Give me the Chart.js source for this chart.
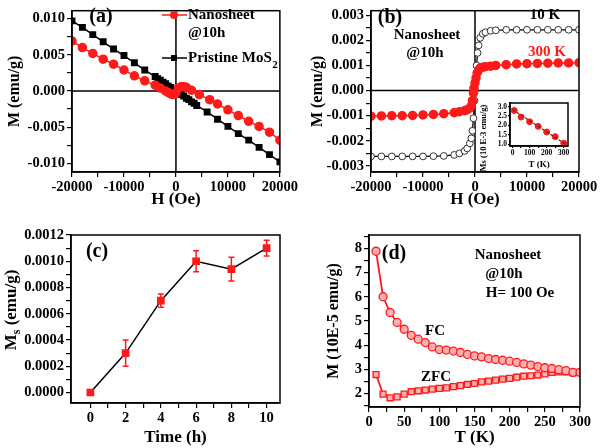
<!DOCTYPE html>
<html>
<head>
<meta charset="utf-8">
<script src="https://cdn.jsdelivr.net/npm/chart.js@4.4.1/dist/chart.umd.min.js"></script>
<style>
  body { margin: 0; background: #fff; }
  #wrap { position: relative; width: 600px; height: 448px; background: #fff; }
  canvas { position: absolute; }
</style>
</head>
<body>
<div id="wrap">
  <canvas id="ca" width="300" height="224" style="left:0px;top:0px"></canvas>
  <canvas id="cb" width="300" height="224" style="left:300px;top:0px"></canvas>
  <canvas id="cc" width="300" height="224" style="left:0px;top:224px"></canvas>
  <canvas id="cd" width="300" height="224" style="left:300px;top:224px"></canvas>
  <canvas id="cin" width="95" height="80" style="left:478px;top:95px"></canvas>
</div>
<script>
// ---- (a) M-H, nanosheet vs pristine MoS2 ----
const aFieldBlack = [-20000, -18000, -16000, -14000, -12000, -10000, -8000, -6000, -4000, -3500, -3000, -2500, -2000, -1500, -1000, -500, 0,
                     500, 1000, 1500, 2000, 2500, 3000, 3500, 4000, 6000, 8000, 10000, 12000, 14000, 16000, 18000, 20000];
const aMBlack = [0.0097, 0.0088, 0.0078, 0.0068, 0.0058, 0.0049, 0.0039, 0.0029, 0.0020, 0.0017, 0.0015, 0.0012, 0.0010, 0.0007, 0.0005, 0.0002, 0.0000,
                 -0.0002, -0.0005, -0.0007, -0.0010, -0.0012, -0.0015, -0.0017, -0.0020, -0.0029, -0.0039, -0.0049, -0.0059, -0.0068, -0.0078, -0.0088, -0.0098];
const aFieldRed = [-20000, -18000, -16000, -14000, -12000, -10000, -8000, -6000, -4000, -3000, -2000, -1500, -1000, -500, 0,
                   500, 1000, 1500, 2000, 3000, 4500, 6500, 8000, 10000, 12000, 14000, 16000, 18000, 20000];
const aMRed = [0.0069, 0.0060, 0.0052, 0.0044, 0.0037, 0.0029, 0.0021, 0.0014, 0.0008, 0.0004, 0.0000, -0.0002, -0.0004, -0.0005, -0.0003,
               0.0004, 0.0006, 0.0006, 0.0005, 0.0001, -0.0005, -0.0012, -0.0018, -0.0026, -0.0034, -0.0042, -0.0049, -0.0057, -0.0068];
const aXTicks = [-20000, -15000, -10000, -5000, 0, 5000, 10000, 15000, 20000];
const aXLabels = [-20000, -10000, 0, 10000, 20000];
const aYTicks = [-0.01, -0.0075, -0.005, -0.0025, 0, 0.0025, 0.005, 0.0075, 0.01];
const aYLabels = [-0.01, -0.005, 0, 0.005, 0.01];

// ---- (b) M-H at 10 K and 300 K ----
const bField10K = [-20000, -18000, -16000, -14000, -12000, -10000, -8000, -6000, -4000, -3000, -2000, -1500, -1000, -700, -500, -300, -100, 0,
                   100, 300, 500, 700, 1000, 1500, 2000, 3000, 4000, 6000, 8000, 10000, 12000, 14000, 16000, 18000, 20000];
const bM10K = [-0.00262, -0.00262, -0.00262, -0.00262, -0.00262, -0.00262, -0.00261, -0.0026, -0.00256, -0.0025, -0.0024, -0.0023, -0.0021, -0.0019, -0.0016, -0.0011, -0.0004, 0.0000,
               0.0004, 0.0010, 0.0015, 0.0018, 0.0021, 0.00226, 0.00232, 0.00238, 0.0024, 0.00242, 0.00242, 0.00242, 0.00242, 0.00242, 0.00242, 0.00242, 0.00242];
const bField300K = [-20000, -18000, -16000, -14000, -12000, -10000, -8000, -6000, -4000, -3000, -2000, -1500, -1000, -700, -500, -300, -200, 0,
                    200, 400, 700, 1000, 1500, 2000, 3000, 4000, 6000, 8000, 10000, 12000, 14000, 16000, 18000, 20000];
const bM300K = [-0.00102, -0.00101, -0.001, -0.001, -0.00099, -0.00097, -0.00095, -0.00092, -0.00088, -0.00084, -0.0008, -0.00076, -0.0007, -0.0006, -0.0004, -0.0001, 0.0001, 0.0003,
                0.0005, 0.0007, 0.00082, 0.0009, 0.00093, 0.00095, 0.00097, 0.001, 0.00103, 0.00106, 0.00107, 0.00108, 0.00109, 0.0011, 0.0011, 0.00111];
const bYTicks = [-0.003, -0.0025, -0.002, -0.0015, -0.001, -0.0005, 0, 0.0005, 0.001, 0.0015, 0.002, 0.0025, 0.003];
const bYLabels = [-0.003, -0.002, -0.001, 0, 0.001, 0.002, 0.003];

// inset of (b): Ms vs T
const inT = [10, 50, 100, 150, 200, 250, 300];
const inMs = [2.8, 2.45, 2.2, 1.95, 1.65, 1.4, 1.05];
const inFitT = [0, 310];
const inFitMs = [2.85, 1.0];
const inXTicks = [0, 50, 100, 150, 200, 250, 300];
const inXLabels = [0, 100, 200, 300];
const inYTicks = [1.0, 1.5, 2.0, 2.5, 3.0];

// ---- (c) Ms vs milling time ----
const cTime = [0, 2, 4, 6, 8, 10];
const cMs = [0.0, 0.0003, 0.0007, 0.001, 0.00094, 0.0011];
const cErr = [0.0, 0.0001, 0.00005, 0.00008, 0.00009, 0.00006];
const cXTicks = [0, 1, 2, 3, 4, 5, 6, 7, 8, 9, 10];
const cXLabels = [0, 2, 4, 6, 8, 10];
const cYTicks = [0, 0.0001, 0.0002, 0.0003, 0.0004, 0.0005, 0.0006, 0.0007, 0.0008, 0.0009, 0.001, 0.0011, 0.0012];
const cYLabels = [0, 0.0002, 0.0004, 0.0006, 0.0008, 0.001, 0.0012];

// ---- (d) FC / ZFC ----
const dT = [10, 20, 30, 40, 50, 60, 70, 80, 90, 100, 110, 120, 130, 140, 150,
            160, 170, 180, 190, 200, 210, 220, 230, 240, 250, 260, 270, 280, 290, 300];
const dFC = [7.88, 6.0, 5.35, 4.94, 4.66, 4.41, 4.25, 4.11, 3.93, 3.82, 3.8, 3.76, 3.7, 3.62, 3.56,
             3.52, 3.45, 3.41, 3.38, 3.34, 3.29, 3.23, 3.18, 3.12, 3.07, 3.04, 2.99, 2.95, 2.88, 2.88];
const dZFC = [2.79, 1.98, 1.83, 1.87, 1.98, 2.08, 2.12, 2.15, 2.19, 2.22, 2.24, 2.29, 2.33, 2.38, 2.42,
              2.49, 2.52, 2.56, 2.6, 2.63, 2.68, 2.72, 2.74, 2.77, 2.82, 2.88, 2.9, 2.9, 2.86, 2.88];
const dXTicks = [0, 25, 50, 75, 100, 125, 150, 175, 200, 225, 250, 275, 300];
const dXLabels = [0, 50, 100, 150, 200, 250, 300];
const dYTicks = [1.5, 2, 2.5, 3, 3.5, 4, 4.5, 5, 5.5, 6, 6.5, 7, 7.5, 8, 8.5];
const dYLabels = [2, 3, 4, 5, 6, 7, 8];

const RED = '#ff1a1a';
const FONT = '"Liberation Serif", "Times New Roman", serif';

Chart.defaults.font.family = FONT;
Chart.defaults.font.weight = 'bold';
Chart.defaults.color = '#000';

function pts(xs, ys) {
    return xs.map((x, i) => ({ x: x, y: ys[i] }));
}

// one linear axis, box size fixed so the plot area lands where it should
function axis(min, max, ticks, labeled, fmt, size, title, titlePad, small, titleSize) {
    return {
        type: 'linear',
        min: min,
        max: max,
        afterBuildTicks: s => { s.ticks = ticks.map(v => ({ value: v })); },
        afterFit: s => { if (s.isHorizontal()) s.height = size; else s.width = size; },
        ticks: {
            autoSkip: false,
            maxRotation: 0,
            padding: small ? 1 : 2,
            color: '#000',
            font: { size: small ? 7.5 : 14.5, weight: 'bold' },
            callback: v => labeled.includes(v) ? fmt(v) : ''
        },
        grid: { drawOnChartArea: false, drawTicks: true, tickLength: small ? 2 : 5, color: '#000', lineWidth: 1.2 },
        border: { display: true, color: '#000', width: 1.5 },
        title: title ? {
            display: true, text: title, color: '#000',
            font: { size: titleSize || (small ? 9 : 17), weight: 'bold' }, padding: titlePad
        } : { display: false }
    };
}

function drawTexts(ctx, items) {
    items.forEach(it => {
        ctx.font = 'bold ' + (it.size || 15) + 'px ' + FONT;
        ctx.fillStyle = it.color || '#000';
        ctx.textAlign = it.align || 'center';
        ctx.textBaseline = 'middle';
        ctx.fillText(it.t, it.x, it.y);
    });
}

// box around the plot, plus the zero cross for the M-H panels
Chart.register({
    id: 'frame',
    defaults: { zero: false },
    beforeDatasetsDraw(chart, args, opts) {
        if (!opts.zero) return;
        const { ctx, chartArea: a, scales } = chart;
        const x0 = scales.x.getPixelForValue(0);
        const y0 = scales.y.getPixelForValue(0);
        ctx.save();
        ctx.strokeStyle = '#000';
        ctx.lineWidth = 1.5;
        ctx.beginPath();
        ctx.moveTo(x0, a.top); ctx.lineTo(x0, a.bottom);
        ctx.moveTo(a.left, y0); ctx.lineTo(a.right, y0);
        ctx.stroke();
        ctx.restore();
    },
    afterDraw(chart) {
        const { ctx, chartArea: a } = chart;
        ctx.save();
        ctx.strokeStyle = '#000';
        ctx.lineWidth = 1.5;
        ctx.strokeRect(a.left, a.top, a.right - a.left, a.bottom - a.top);
        ctx.restore();
    }
});

const base = {
    responsive: false,
    animation: false,
    devicePixelRatio: 1,
    plugins: { legend: { display: false }, tooltip: { enabled: false } }
};

function opts(extra) {
    return Object.assign({}, base, extra, { plugins: Object.assign({}, base.plugins, extra.plugins || {}) });
}

// (a)
new Chart(document.getElementById('ca'), {
    type: 'scatter',
    data: {
        datasets: [{
            data: pts(aFieldRed, aMRed), showLine: true, borderColor: RED, borderWidth: 1.5,
            pointStyle: 'circle', pointRadius: 4, pointBackgroundColor: RED, pointBorderColor: RED
        }, {
            data: pts(aFieldBlack, aMBlack), showLine: true, borderColor: '#000', borderWidth: 1.5,
            pointStyle: 'rect', pointRadius: 3.8, pointBackgroundColor: '#000', pointBorderColor: '#000'
        }]
    },
    options: opts({
        layout: { padding: { left: 0, right: 17, top: 2, bottom: 0 } },
        scales: {
            x: axis(-20000, 20000, aXTicks, aXLabels, v => String(v), 52, 'H (Oe)', { top: 0, bottom: 14 }),
            y: axis(-0.0112, 0.0111, aYTicks, aYLabels, v => v.toFixed(3), 72, 'M (emu/g)', { top: 5, bottom: 0 }, false, 16)
        },
        plugins: { frame: { zero: true } }
    }),
    plugins: [{
        id: 'aText',
        afterDraw(chart) {
            const ctx = chart.ctx;
            ctx.save();
            // legend
            ctx.lineWidth = 1.5;
            ctx.strokeStyle = RED;
            ctx.beginPath(); ctx.moveTo(162, 15); ctx.lineTo(187, 15); ctx.stroke();
            ctx.fillStyle = RED;
            ctx.beginPath(); ctx.arc(174, 15, 4, 0, Math.PI * 2); ctx.fill();
            ctx.strokeStyle = '#000';
            ctx.beginPath(); ctx.moveTo(162, 58); ctx.lineTo(187, 58); ctx.stroke();
            ctx.fillStyle = '#000';
            ctx.fillRect(171, 55, 6, 6);
            drawTexts(ctx, [
                { t: '(a)', x: 101, y: 17, size: 20 },
                { t: 'Nanosheet', x: 188, y: 15, align: 'left' },
                { t: '@10h', x: 188, y: 33, align: 'left' },
                { t: 'Pristine MoS', x: 188, y: 58, align: 'left' }
            ]);
            ctx.font = 'bold 15px ' + FONT;
            const w = ctx.measureText('Pristine MoS').width;
            drawTexts(ctx, [{ t: '2', x: 188 + w + 0.5, y: 65, size: 11, align: 'left' }]);
            ctx.restore();
        }
    }]
});

// (b)
new Chart(document.getElementById('cb'), {
    type: 'scatter',
    data: {
        datasets: [{
            data: pts(bField300K, bM300K), showLine: true, borderColor: RED, borderWidth: 1.5,
            pointRadius: 4, pointBackgroundColor: RED, pointBorderColor: RED
        }, {
            data: pts(bField10K, bM10K), showLine: true, borderColor: '#000', borderWidth: 1.3,
            pointRadius: 3.4, pointBackgroundColor: '#fff', pointBorderColor: '#333', pointBorderWidth: 1
        }]
    },
    options: opts({
        layout: { padding: { left: 0, right: 21, top: 2, bottom: 0 } },
        scales: {
            x: axis(-20000, 20000, aXTicks, aXLabels, v => String(v), 52, 'H (Oe)', { top: 0, bottom: 14 }),
            y: axis(-0.00324, 0.00318, bYTicks, bYLabels, v => v.toFixed(3), 71, 'M (emu/g)', { top: 8, bottom: 0 }, false, 16)
        },
        plugins: { frame: { zero: true } }
    }),
    plugins: [{
        id: 'bText',
        afterDraw(chart) {
            drawTexts(chart.ctx, [
                { t: '(b)', x: 90, y: 18, size: 20 },
                { t: 'Nanosheet', x: 127, y: 35 },
                { t: '@10h', x: 125, y: 53 },
                { t: '10 K', x: 245, y: 15 },
                { t: '300 K', x: 247, y: 52, color: RED }
            ]);
        }
    }]
});

// inset of (b)
new Chart(document.getElementById('cin'), {
    type: 'scatter',
    data: {
        datasets: [{
            data: pts(inFitT, inFitMs), showLine: true, borderColor: '#333', borderWidth: 1.2,
            borderDash: [3, 2], pointRadius: 0
        }, {
            data: pts(inT, inMs), pointRadius: 3, pointBackgroundColor: RED, pointBorderColor: RED
        }]
    },
    options: opts({
        layout: { padding: { left: 0, right: 5, top: 8, bottom: 0 } },
        scales: {
            x: axis(-15, 325, inXTicks, inXLabels, v => String(v), 29, 'T (K)', { top: 0, bottom: 5 }, true),
            y: axis(0.9, 3.2, inYTicks, inYTicks, v => v.toFixed(1), 32, null, null, true)
        }
    }),
    plugins: [{
        id: 'inText',
        beforeDraw(chart) {
            const { ctx, chartArea: a } = chart;
            ctx.save();
            ctx.fillStyle = '#fff';
            ctx.fillRect(a.left, a.top, a.right - a.left, a.bottom - a.top);
            ctx.translate(6, 43);
            ctx.rotate(-Math.PI / 2);
            drawTexts(ctx, [{ t: 'Ms (10 E-3 emu/g)', x: 0, y: 0, size: 8.5 }]);
            ctx.restore();
        }
    }]
});

// (c)
new Chart(document.getElementById('cc'), {
    type: 'scatter',
    data: {
        datasets: [{
            data: pts(cTime, cMs), showLine: true, borderColor: '#000', borderWidth: 1.5,
            pointStyle: 'rect', pointRadius: 4.4, pointBackgroundColor: RED, pointBorderColor: RED
        }]
    },
    options: opts({
        layout: { padding: { left: 0, right: 20, top: 11, bottom: 0 } },
        scales: {
            x: axis(-1.1, 10.76, cXTicks, cXLabels, v => String(v), 45, 'Time (h)', { top: 0, bottom: 0 }),
            y: axis(-0.00008, 0.0012, cYTicks, cYLabels, v => v.toFixed(4), 71, null, null)
        }
    }),
    plugins: [{
        id: 'cErrText',
        beforeDatasetsDraw(chart) {
            // error bars from cErr, through the chart scales
            const { ctx, scales } = chart;
            ctx.save();
            ctx.strokeStyle = RED;
            ctx.lineWidth = 1.5;
            cTime.forEach((t, i) => {
                if (!cErr[i]) return;
                const x = scales.x.getPixelForValue(t);
                const y1 = scales.y.getPixelForValue(cMs[i] + cErr[i]);
                const y2 = scales.y.getPixelForValue(cMs[i] - cErr[i]);
                ctx.beginPath();
                ctx.moveTo(x, y1); ctx.lineTo(x, y2);
                ctx.moveTo(x - 3, y1); ctx.lineTo(x + 3, y1);
                ctx.moveTo(x - 3, y2); ctx.lineTo(x + 3, y2);
                ctx.stroke();
            });
            ctx.restore();
        },
        afterDraw(chart) {
            const ctx = chart.ctx;
            drawTexts(ctx, [{ t: '(c)', x: 97, y: 28, size: 20 }]);
            // y title with subscript s
            ctx.save();
            ctx.translate(12, 86);
            ctx.rotate(-Math.PI / 2);
            ctx.font = 'bold 17px ' + FONT;
            const wM = ctx.measureText('M').width;
            const wR = ctx.measureText(' (emu/g)').width;
            ctx.font = 'bold 12px ' + FONT;
            const wS = ctx.measureText('s').width;
            const x0 = -(wM + wS + wR) / 2;
            drawTexts(ctx, [
                { t: 'M', x: x0, y: 0, size: 17, align: 'left' },
                { t: 's', x: x0 + wM, y: 5, size: 12, align: 'left' },
                { t: ' (emu/g)', x: x0 + wM + wS, y: 0, size: 17, align: 'left' }
            ]);
            ctx.restore();
        }
    }]
});

// (d)
new Chart(document.getElementById('cd'), {
    type: 'scatter',
    data: {
        datasets: [{
            data: pts(dT, dFC), showLine: true, borderColor: RED, borderWidth: 1.8,
            pointStyle: 'circle', pointRadius: 4, pointBackgroundColor: '#ffb0b0', pointBorderColor: RED, pointBorderWidth: 1.3
        }, {
            data: pts(dT, dZFC), showLine: true, borderColor: RED, borderWidth: 1.8,
            pointStyle: 'rect', pointRadius: 4.2, pointBackgroundColor: '#ffb0b0', pointBorderColor: RED, pointBorderWidth: 1.3
        }]
    },
    options: opts({
        layout: { padding: { left: 0, right: 20, top: 11, bottom: 0 } },
        scales: {
            x: axis(0, 300, dXTicks, dXLabels, v => String(v), 41, 'T (K)', { top: 0, bottom: 0 }),
            y: axis(1.45, 8.55, dYTicks, dYLabels, v => String(v), 69, 'M (10E-5 emu/g)', { top: 24, bottom: 0 }, false, 16)
        }
    }),
    plugins: [{
        id: 'dText',
        afterDraw(chart) {
            drawTexts(chart.ctx, [
                { t: '(d)', x: 94, y: 30, size: 20 },
                { t: 'Nanosheet', x: 208, y: 31 },
                { t: '@10h', x: 204, y: 50 },
                { t: 'H= 100 Oe', x: 220, y: 69 },
                { t: 'FC', x: 135, y: 107 },
                { t: 'ZFC', x: 136, y: 153 }
            ]);
        }
    }]
});
</script>
</body>
</html>
